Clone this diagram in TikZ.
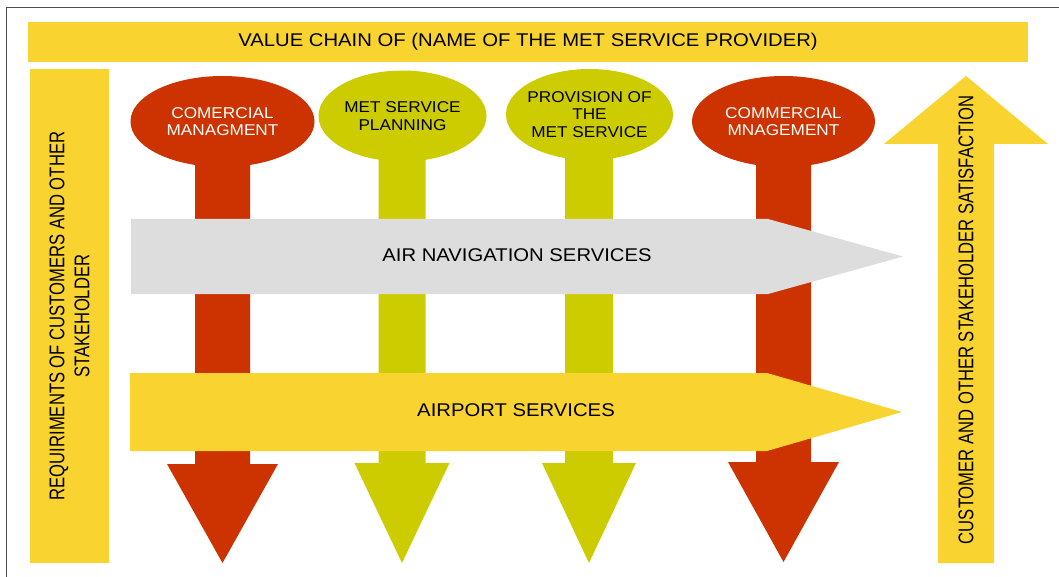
\documentclass[tikz,border=0pt]{standalone}
\usepackage{fontspec}
\setmainfont{Liberation Sans}[FakeStretch=1.1]
\newfontfamily\narrowfont{Liberation Sans}[FakeStretch=0.78]
\usepackage{tikz}
\usetikzlibrary{shapes.geometric,positioning}
\definecolor{chainred}{HTML}{CC3300}
\definecolor{chaingreen}{HTML}{CCCC00}
\definecolor{chainyellow}{HTML}{F9D32F}
\definecolor{chaingray}{HTML}{DDDDDD}

\begin{document}
\begin{tikzpicture}[x=1bp,y=-1bp,
		bar/.style={fill=chainyellow,inner sep=0pt},
		stage/.style={ellipse,inner sep=0pt,minimum height=91bp},
		stagetext/.style={align=center,font=\fontsize{15.7}{17.5}\selectfont},
		band/.style={font=\fontsize{18.5}{22}\selectfont},
		side/.style={rotate=90,align=center,font=\narrowfont\fontsize{21.4}{25}\selectfont}]
		\useasboundingbox (0,0) rectangle (1059,577);
		\clip (0,0) rectangle (1059,577);
		\draw[black!70,line width=1.3bp] (6.5,600) |- (1080,7.5);

		\node[bar,minimum width=1000bp,minimum height=40bp,font=\fontsize{18.5}{22}\selectfont] (title) at (528,42) {VALUE CHAIN OF (NAME OF THE MET SERVICE PROVIDER)};
		\node[bar,side,minimum width=494bp,minimum height=79bp] (req) at (69.5,316) {REQUIRIMENTS OF CUSTOMERS AND OTHER\\STAKEHOLDER};

		\fill[chainyellow] (938,563) -- (938,144) -- (884,144) -- (966,76) -- (1048,144) -- (994,144) -- (994,563) -- cycle;
		\node[side] (sat) at (966,320) {CUSTOMER AND OTHER STAKEHOLDER SATISFACTION};

		\node[stage,fill=chainred,minimum width=184bp] (cm1) at (222.5,121.5) {};
		\node[stage,fill=chaingreen,minimum width=168bp] (plan) at (402.5,116) {};
		\node[stage,fill=chaingreen,minimum width=167bp] (prov) at (589.5,114.5) {};
		\node[stage,fill=chainred,minimum width=183bp] (cm2) at (783.5,121.5) {};

		\fill[chainred] ([xshift=-27.5bp]cm1.center) -- ++(55,0) -- ++(0,342.5) -- ++(28,0) -- ++(-55.5,99) -- ++(-55.5,-99) -- ++(28,0) -- cycle;
		\fill[chaingreen] ([xshift=-24bp]plan.center) -- ++(47,0) -- ++(0,347) -- ++(24,0) -- ++(-47.5,100) -- ++(-47.5,-100) -- ++(24,0) -- cycle;
		\fill[chaingreen] ([xshift=-24.5bp]prov.center) -- ++(48,0) -- ++(0,348.5) -- ++(23,0) -- ++(-47,100) -- ++(-47,-100) -- ++(23,0) -- cycle;
		\fill[chainred] ([xshift=-27.5bp]cm2.center) -- ++(55,0) -- ++(0,340.5) -- ++(28,0) -- ++(-55.5,100) -- ++(-55.5,-100) -- ++(28,0) -- cycle;

		\node[stagetext,text=white] (cm1text) at (cm1) {COMERCIAL\\MANAGMENT};
		\node[stagetext] (plantext) at (plan) {MET SERVICE\\PLANNING};
		\node[stagetext] (provtext) at (prov) {PROVISION OF\\THE\\MET SERVICE};
		\node[stagetext,text=white] (cm2text) at (cm2) {COMMERCIAL\\MNAGEMENT};

		\fill[chaingray] (131,219) -- (768,219) -- (903,256.5) -- (768,294) -- (131,294) -- cycle;
		\node[band] (ans) at (517,255.5) {AIR NAVIGATION SERVICES};
		\fill[chainyellow] (130,373) -- (767,373) -- (902,412) -- (767,451) -- (130,451) -- cycle;
		\node[band] (apt) at (516,410.5) {AIRPORT SERVICES};
\end{tikzpicture}
\end{document}
